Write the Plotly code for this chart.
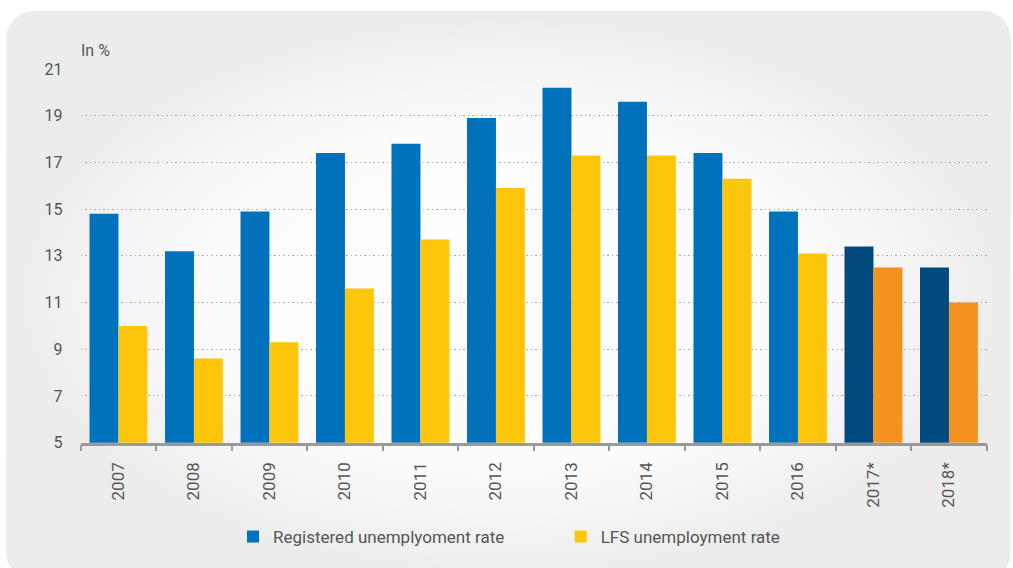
import numpy as np
import plotly.graph_objects as go

# ---- data -------------------------------------------------------------
years = ["2007", "2008", "2009", "2010", "2011", "2012",
         "2013", "2014", "2015", "2016", "2017*", "2018*"]
registered = [14.8, 13.2, 14.9, 17.4, 17.8, 18.9, 20.2, 19.6, 17.4, 14.9, 13.4, 12.5]
lfs = [10.0, 8.6, 9.3, 11.6, 13.7, 15.9, 17.3, 17.3, 16.3, 13.1, 12.5, 11.0]
projected = [False] * 10 + [True, True]   # 2017*, 2018* are projections

series_names = ["Registered unemplyoment rate", "LFS unemployment rate"]
y_ticks = [5, 7, 9, 11, 13, 15, 17, 19, 21]

# ---- styling ----------------------------------------------------------
W, H = 1013, 568
BLUE, BLUE_DARK = "#0072bc", "#004a80"
YELLOW, ORANGE = "#fdc60b", "#f3921f"
TEXT = "#555555"
FONT = "Roboto"

reg_colors = [BLUE_DARK if p else BLUE for p in projected]
lfs_colors = [ORANGE if p else YELLOW for p in projected]

# plot-area placement in pixels
px_left, px_right = 80.7, 986.7
px_top, px_bottom = 69.0, 442.7


def rounded_rect(x0, y0, x1, y1, r, n=16):
    """Closed outline of a rounded rectangle (pixel coords, y downwards)."""
    xs, ys = [], []
    corners = [(x1 - r, y0 + r, -90, 0), (x1 - r, y1 - r, 0, 90),
               (x0 + r, y1 - r, 90, 180), (x0 + r, y0 + r, 180, 270)]
    for cx, cy, a0, a1 in corners:
        t = np.radians(np.linspace(a0, a1, n))
        xs.extend(cx + r * np.cos(t))
        ys.extend(cy + r * np.sin(t))
    xs.append(xs[0])
    ys.append(ys[0])
    return xs, ys


fig = go.Figure()

# soft grey panel behind the chart (full-page background subplot)
bx, by = rounded_rect(6, 11, 1011, 580, 28)
fig.add_trace(go.Scatter(
    x=bx, y=by, xaxis="x", yaxis="y", mode="lines",
    line=dict(width=0), fill="toself",
    fillgradient=dict(type="radial",
                      colorscale=[[0, "#ffffff"], [0.6, "#fcfcfc"], [1, "#ececec"]]),
    hoverinfo="skip", showlegend=False,
))

fig.add_trace(go.Bar(
    x=years, y=registered, name=series_names[0],
    marker=dict(color=reg_colors, line=dict(width=0)),
    xaxis="x2", yaxis="y2",
))
fig.add_trace(go.Bar(
    x=years, y=lfs, name=series_names[1],
    marker=dict(color=lfs_colors, line=dict(width=0)),
    xaxis="x2", yaxis="y2",
))

fig.update_layout(
    width=W, height=H,
    margin=dict(l=0, r=0, t=0, b=0, pad=0, autoexpand=False),
    paper_bgcolor="white",
    plot_bgcolor="rgba(0,0,0,0)",
    font=dict(family=FONT, color=TEXT, size=16),
    barmode="group", bargap=0.233, bargroupgap=0,
    xaxis=dict(domain=[0, 1], range=[0, W], visible=False,
               fixedrange=True, automargin=False),
    yaxis=dict(domain=[0, 1], range=[H, 0], visible=False,
               fixedrange=True, automargin=False),
    xaxis2=dict(
        domain=[px_left / W, px_right / W], anchor="y2", automargin=False,
        type="category", tickson="boundaries",
        showline=True, linecolor="#999999", linewidth=2.5,
        ticks="outside", ticklen=6, tickwidth=2, tickcolor="#999999",
        tickangle=-90, tickfont=dict(size=17, color=TEXT),
        ticklabelstandoff=10, showgrid=False,
    ),
    yaxis2=dict(
        domain=[1 - px_bottom / H, 1 - px_top / H], anchor="x2", automargin=False,
        range=[5, 21], tickvals=y_ticks,
        showline=False, zeroline=False,
        ticks="outside", ticklen=14, tickcolor="rgba(0,0,0,0)",
        tickfont=dict(size=16, color=TEXT),
        showgrid=True, gridcolor="#aaaaaa", gridwidth=1, griddash="1.5px,3px",
    ),
    legend=dict(
        orientation="h", x=233 / W, xanchor="left", y=1 - 537 / H, yanchor="middle",
        font=dict(size=17, color=TEXT), bgcolor="rgba(0,0,0,0)",
        entrywidth=282.7, entrywidthmode="pixels", traceorder="normal",
    ),
    annotations=[dict(
        text="In %", xref="paper", yref="paper",
        x=79 / W, y=1 - 50 / H, xanchor="left", yanchor="middle",
        showarrow=False, font=dict(size=16, color=TEXT),
    )],
)

fig.write_html("out.html")
